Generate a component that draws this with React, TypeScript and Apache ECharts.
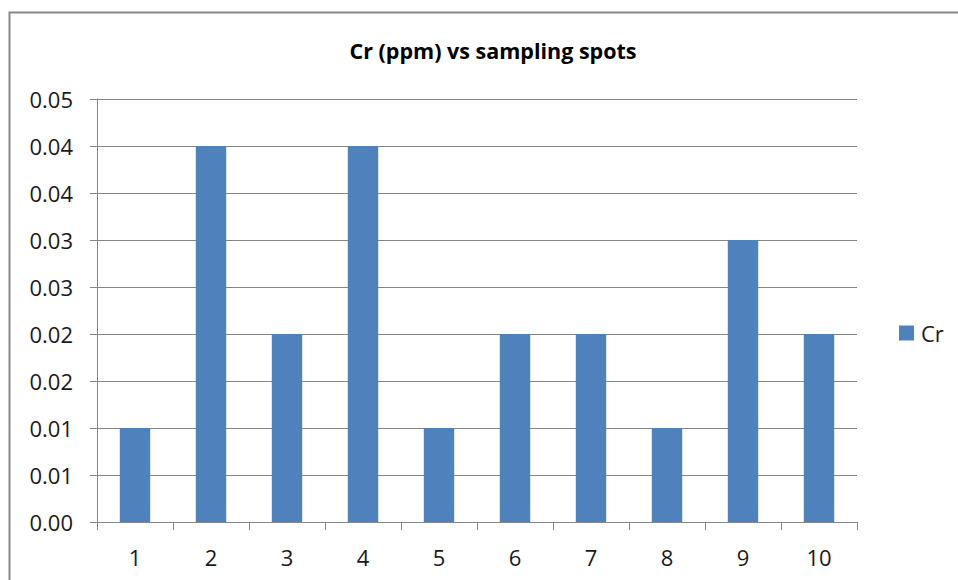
import React, { useEffect, useRef } from "react";
import * as echarts from "echarts";

const categories = ["1", "2", "3", "4", "5", "6", "7", "8", "9", "10"];
const crValues = [0.01, 0.04, 0.02, 0.04, 0.01, 0.02, 0.02, 0.01, 0.03, 0.02];
const yTickLabels = ["0.00", "0.01", "0.01", "0.02", "0.02", "0.03", "0.03", "0.04", "0.04", "0.05"];

const FONT = "'Open Sans', Lato, sans-serif";

export default function App() {
  const ref = useRef<HTMLDivElement>(null);
  useEffect(() => {
    if (!ref.current) return;
    const chart = echarts.init(ref.current, undefined, { renderer: "svg" });
    chart.setOption({
      animation: false,
      backgroundColor: "#ffffff",
      title: {
        text: "Cr (ppm) vs sampling spots",
        left: 488,
        textAlign: "center",
        top: 34,
        textStyle: { fontFamily: FONT, fontSize: 21.5, fontWeight: "bold", color: "#000" },
      },
      legend: {
        left: 894,
        top: 317,
        icon: "rect",
        itemWidth: 15,
        itemHeight: 15,
        itemGap: 6,
        textStyle: { fontFamily: FONT, fontSize: 22, color: "#1a1a1a", padding: [0, 0, 0, 2] },
        data: ["Cr"],
      },
      grid: { left: 97, top: 99, width: 760, height: 423, containLabel: false },
      xAxis: {
        type: "category",
        data: categories,
        axisLine: { lineStyle: { color: "#868686", width: 1 } },
        axisTick: { show: true, length: 8, lineStyle: { color: "#868686" } },
        axisLabel: { fontFamily: FONT, fontSize: 22, color: "#1a1a1a", margin: 24 },
      },
      yAxis: {
        type: "value",
        min: 0,
        max: 0.045,
        interval: 0.005,
        axisLine: { show: true, lineStyle: { color: "#868686", width: 1 } },
        axisTick: { show: true, length: 7, lineStyle: { color: "#868686" } },
        splitLine: { show: true, lineStyle: { color: "#868686", width: 1 } },
        axisLabel: {
          fontFamily: FONT,
          fontSize: 22,
          color: "#1a1a1a",
          margin: 24,
          formatter: (_v: number, i: number) => yTickLabels[i] ?? "",
        },
      },
      series: [
        {
          name: "Cr",
          type: "bar",
          data: crValues,
          barWidth: "40%",
          itemStyle: { color: "#4F81BD" },
        },
      ],
      graphic: [
        {
          type: "rect",
          shape: { x: 9.5, y: 12.5, width: 1000, height: 1000 },
          style: { fill: "none", stroke: "#888888", lineWidth: 2 },
          silent: true,
        },
      ],
    });
    return () => chart.dispose();
  }, []);
  return (
    <div
      ref={ref}
      style={{ position: "fixed", left: 0, top: 0, width: 958, height: 580 }}
    />
  );
}
